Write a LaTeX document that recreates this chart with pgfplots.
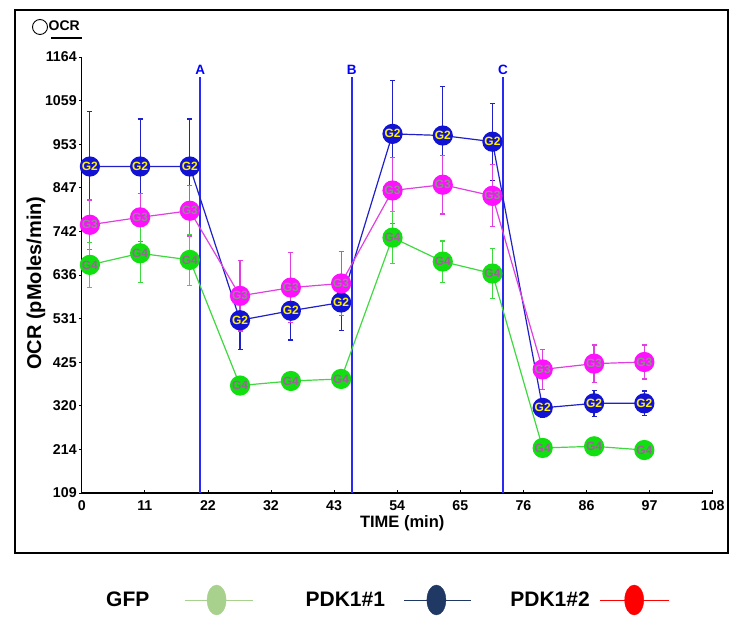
\documentclass[border=0pt]{standalone}
\usepackage{pgfplots}
\pgfplotsset{compat=1.18}
\usepackage{fontspec}
\setmainfont{Liberation Sans}
\definecolor{cblue}{HTML}{1212D4}
\definecolor{lblue}{HTML}{2020C8}
\definecolor{cmag}{HTML}{FF10FF}
\definecolor{lmag}{HTML}{E040E0}
\definecolor{cgreen}{HTML}{10E010}
\definecolor{lgreen}{HTML}{40D840}
\definecolor{vblue}{HTML}{2A2AF0}
\definecolor{lgfp}{HTML}{A9D18E}
\definecolor{lpdka}{HTML}{1F3864}
\definecolor{lpdkb}{HTML}{FF0000}
\definecolor{gthree}{HTML}{8C8C8C}
\definecolor{gfour}{HTML}{A0609A}
\begin{document}
\begin{tikzpicture}[x=1pt,y=1pt]
\useasboundingbox (0,0) rectangle (745,627);
\draw[line width=1.3pt] (15,617) rectangle (728,74);
\draw[line width=0.9pt] (40,600) circle (7.5);
\node[anchor=west,inner sep=0pt,font=\bfseries\fontsize{14}{14}\selectfont] at (48.5,601) {OCR};
\draw[line width=1.5pt] (51,589) -- (82,589);
\begin{axis}[
  at={(81.7pt,134pt)}, anchor=south west,
  scale only axis, width=631pt, height=436pt,
  xmin=0, xmax=108, ymin=109, ymax=1164,
  axis lines=left,
  axis line style={line width=1.4pt,-},
  xtick={0,10.8,21.6,32.4,43.2,54,64.8,75.6,86.4,97.2,108},
  xticklabels={0,11,22,32,43,54,65,76,86,97,108},
  ytick={109,214.5,320,425.5,531,636.5,742,847.5,953,1058.5,1164},
  yticklabels={109,214,320,425,531,636,742,847,953,1059,1164},
  tick style={black,line width=0.8pt},
  major tick length=2.5pt,
  xtick align=inside, ytick align=outside,
  tick label style={font=\bfseries\fontsize{14.2}{14.2}\selectfont},
  yticklabel style={xshift=1pt},
  xticklabel style={yshift=-4pt},
  xlabel={TIME (min)}, ylabel={OCR (pMoles/min)},
  xlabel style={font=\bfseries\fontsize{16.5}{17}\selectfont, yshift=2pt, xshift=5pt},
  ylabel style={font=\bfseries\fontsize{20}{20}\selectfont, yshift=-7pt, xshift=-8pt},
  clip=false,
  legend columns=3,
  legend plot pos=right,
  legend style={at={(0.0385,-0.2454)}, anchor=west, draw=none, fill=none,
    inner sep=0pt, column sep=0pt,
    font=\bfseries\fontsize{21}{22}\selectfont,
    nodes={inner sep=0pt}},
]
% treatment injection lines
\addplot[vblue,line width=1.8pt,forget plot] coordinates {(20.3,109) (20.3,1116)};
\addplot[vblue,line width=1.8pt,forget plot] coordinates {(46.2,109) (46.2,1116)};
\addplot[vblue,line width=1.8pt,forget plot] coordinates {(72.1,109) (72.1,1116)};
\node[text=blue,font=\bfseries\fontsize{13.5}{13.5}\selectfont] at (axis cs:20.3,1134) {A};
\node[text=blue,font=\bfseries\fontsize{13.5}{13.5}\selectfont] at (axis cs:46.2,1134) {B};
\node[text=blue,font=\bfseries\fontsize{13.5}{13.5}\selectfont] at (axis cs:72.1,1134) {C};
% PDK1#1 (G2)
\addplot[lblue,line width=1.2pt,forget plot,
  mark=*, mark size=9.5pt, mark options={fill=cblue,draw=cblue},
  error bars/.cd, y dir=both, y explicit,
  error bar style={lblue,line width=1.2pt},
  error mark options={lblue,line width=1.2pt,mark size=2.5pt,rotate=90},
] table[x=x,y=y,y error=e] {
x y e
1.4 899 133
10.0 899 115
18.5 899 115
27.1 527 70
35.8 550 71
44.4 570 67
53.2 978 129
61.8 974 119
70.3 959 93
78.9 315 22
87.7 326 31
96.3 326 30
};
% PDK1#2 (G3)
\addplot[lmag,line width=1.2pt,forget plot,
  mark=*, mark size=9.5pt, mark options={fill=cmag,draw=cmag},
  error bars/.cd, y dir=both, y explicit,
  error bar style={lmag,line width=1.2pt},
  error mark options={lmag,line width=1.2pt,mark size=2.5pt,rotate=90},
] table[x=x,y=y,y error=e] {
x y e
1.4 758 60
10.0 776 58
18.5 792 61
27.1 586 85
35.8 606 84
44.4 616 77
53.2 841 80
61.8 855 71
70.3 828 75
78.9 408 48
87.7 422 45
96.3 426 41
};
% GFP (G4)
\addplot[lgreen,line width=1.2pt,forget plot,
  mark=*, mark size=9.5pt, mark options={fill=cgreen,draw=cgreen},
  error bars/.cd, y dir=both, y explicit,
  error bar style={lgreen,line width=1.2pt},
  error mark options={lgreen,line width=1.2pt,mark size=2.5pt,rotate=90},
] table[x=x,y=y,y error=e] {
x y e
1.4 661 55
10.0 689 70
18.5 673 62
27.1 369 8
35.8 380 8
44.4 385 8
53.2 727 63
61.8 669 50
70.3 640 60
78.9 218 8
87.7 222 8
96.3 213 8
};
% marker labels
\addplot[only marks, mark=none, forget plot,
  nodes near coords={G2},
  every node near coord/.append style={anchor=center,text=yellow,inner sep=0pt,
    font=\bfseries\fontsize{12}{12}\selectfont}]
 table[x=x,y=y] {
x y
1.4 899
10.0 899
18.5 899
27.1 527
35.8 550
44.4 570
53.2 978
61.8 974
70.3 959
78.9 315
87.7 326
96.3 326
};
\addplot[only marks, mark=none, forget plot,
  nodes near coords={G3},
  every node near coord/.append style={anchor=center,text=gthree,inner sep=0pt,
    font=\bfseries\fontsize{12}{12}\selectfont}]
 table[x=x,y=y] {
x y
1.4 758
10.0 776
18.5 792
27.1 586
35.8 606
44.4 616
53.2 841
61.8 855
70.3 828
78.9 408
87.7 422
96.3 426
};
\addplot[only marks, mark=none, forget plot,
  nodes near coords={G4},
  every node near coord/.append style={anchor=center,text=gfour,inner sep=0pt,
    font=\bfseries\fontsize{12}{12}\selectfont}]
 table[x=x,y=y] {
x y
1.4 661
10.0 689
18.5 673
27.1 369
35.8 380
44.4 385
53.2 727
61.8 669
70.3 640
78.9 218
87.7 222
96.3 213
};
% legend
\addlegendimage{legend image code/.code={
  \draw[lgfp,line width=0.8pt] (0pt,0pt) -- (68pt,0pt);
  \fill[lgfp] (32pt,0pt) ellipse (9.5pt and 15pt);}}
\addlegendentry{\makebox[78pt][l]{GFP}}
\addlegendimage{legend image code/.code={
  \draw[lpdka,line width=0.8pt] (0pt,0pt) -- (67pt,0pt);
  \fill[lpdka] (32pt,0pt) ellipse (9.5pt and 15pt);}}
\addlegendentry{\makebox[151pt][r]{PDK1\#1\hspace{19pt}}}
\addlegendimage{legend image code/.code={
  \draw[lpdkb,line width=0.8pt] (0pt,0pt) -- (69pt,0pt);
  \fill[lpdkb] (34pt,0pt) ellipse (9.5pt and 15pt);}}
\addlegendentry{\makebox[128pt][r]{PDK1\#2\hspace{10pt}}}
\end{axis}
\end{tikzpicture}
\end{document}
